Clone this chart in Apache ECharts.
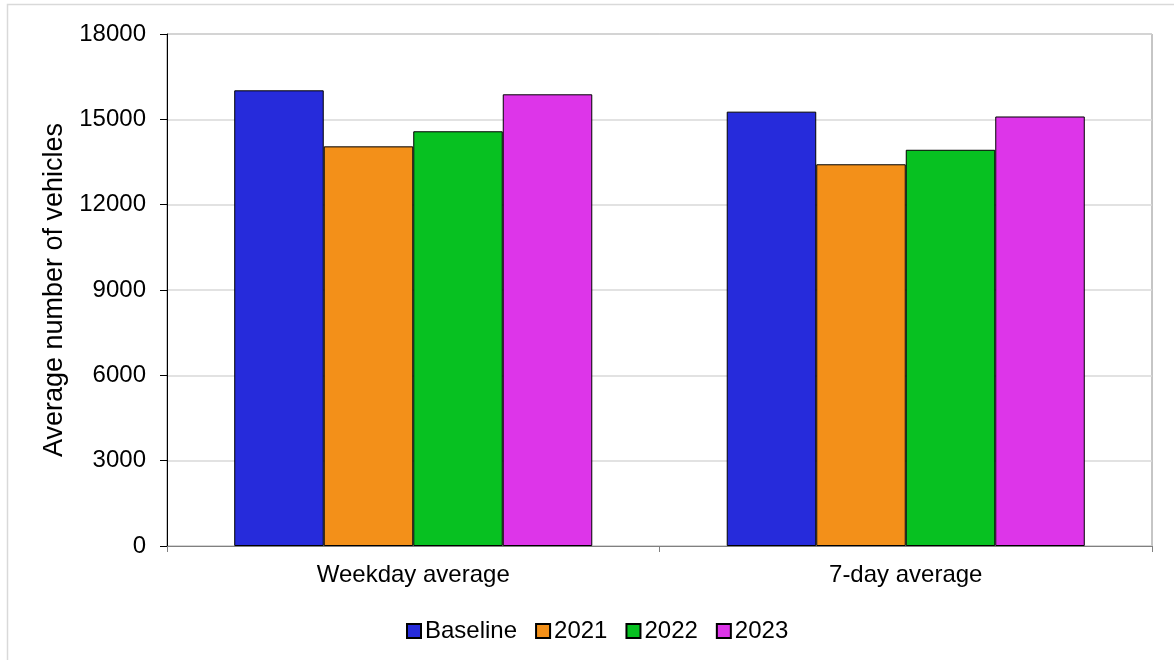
<!DOCTYPE html>
<html>
<head>
<meta charset="utf-8">
<script src="https://cdn.jsdelivr.net/npm/echarts@6/dist/echarts.min.js"></script>
<style>
  html, body { margin: 0; padding: 0; background: #ffffff; }
  #chart { width: 1174px; height: 660px; }
</style>
</head>
<body>
<div id="chart"></div>
<script>
// Average daily vehicle counts by period
const categories = ['Weekday average', '7-day average'];
const seriesNames = ['Baseline', '2021', '2022', '2023'];
const baseline = [16020, 15270];
const y2021 = [14050, 13420];
const y2022 = [14580, 13930];
const y2023 = [15880, 15100];
const yTicks = [0, 3000, 6000, 9000, 12000, 15000, 18000];
const colors = ['#262bdb', '#f39019', '#07c121', '#dd35e9'];

const values = [baseline, y2021, y2022, y2023];
const font = '"Liberation Sans", Arial, sans-serif';

const chart = echarts.init(document.getElementById('chart'), null, { renderer: 'canvas' });

chart.setOption({
  animation: false,
  backgroundColor: '#ffffff',
  textStyle: { fontFamily: font },
  graphic: [
    {
      type: 'rect',
      shape: { x: 7.5, y: 4.5, width: 1300, height: 800 },
      style: { fill: 'none', stroke: '#d9d9d9', lineWidth: 1.5 },
      silent: true,
      z: -10
    }
  ],
  grid: {
    left: 167, right: 22, top: 34, bottom: 114,
    show: true, borderColor: '#8c8c8c', borderWidth: 1, backgroundColor: 'transparent'
  },
  legend: {
    data: seriesNames,
    left: 401, top: 614,
    itemWidth: 14, itemHeight: 14, itemGap: 18,
    textStyle: { fontSize: 24, color: '#000', fontFamily: font, padding: [0, 0, 0, -1] },
    icon: 'rect'
  },
  xAxis: {
    type: 'category',
    data: categories,
    axisLine: { lineStyle: { color: '#808080', width: 1 } },
    axisTick: { show: true, length: 6, lineStyle: { color: '#808080' } },
    axisLabel: { fontSize: 24, color: '#000', margin: 17, fontFamily: font },
    splitLine: { show: false }
  },
  yAxis: {
    type: 'value',
    min: yTicks[0], max: yTicks[yTicks.length - 1], interval: 3000,
    name: 'Average number of vehicles',
    nameLocation: 'middle', nameGap: 95, nameRotate: 90,
    nameTextStyle: { fontSize: 27, color: '#000', fontFamily: font },
    axisLine: { show: true, lineStyle: { color: '#000', width: 1 } },
    axisTick: { show: true, length: 7, lineStyle: { color: '#000' } },
    axisLabel: { fontSize: 24, color: '#000', margin: 21, fontFamily: font, formatter: v => String(v) },
    splitLine: { show: true, lineStyle: { color: '#d9d9d9', width: 1.5 } }
  },
  series: seriesNames.map((name, i) => ({
    name: name,
    type: 'bar',
    data: values[i],
    barGap: '0%',
    barCategoryGap: '27.3%',
    itemStyle: { color: colors[i], borderColor: '#000', borderWidth: 1 }
  }))
});
</script>
</body>
</html>
